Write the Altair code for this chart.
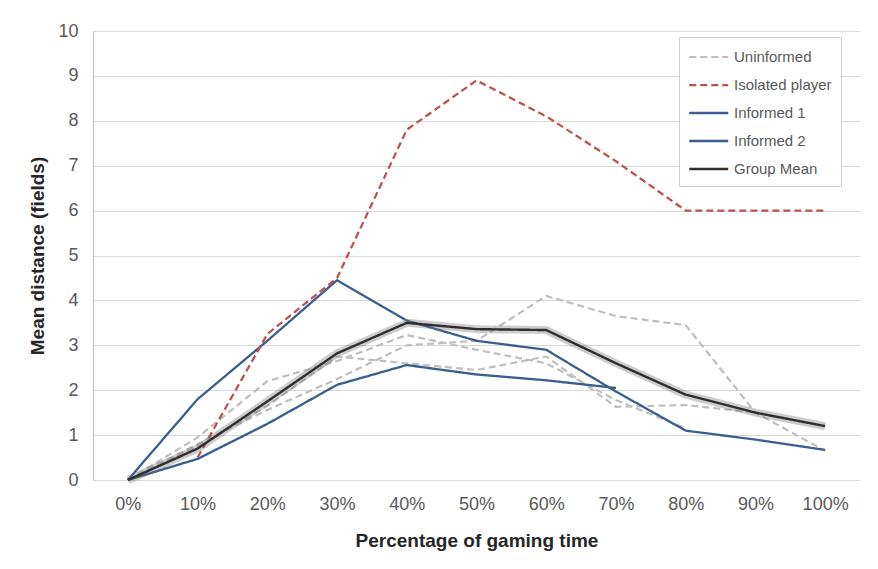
import altair as alt
import pandas as pd

pct = ["0%", "10%", "20%", "30%", "40%", "50%", "60%", "70%", "80%", "90%", "100%"]

uninformed_a = [0, 0.8, 1.56, 2.25, 3.0, 3.1, 4.1, 3.65, 3.45, 1.5, 0.65]
uninformed_b = [0, 0.95, 2.2, 2.65, 3.23, 2.9, 2.6, 1.78, 1.15, None, None]
uninformed_c = [0, 0.75, 1.65, 2.75, 2.6, 2.45, 2.75, 1.63, 1.67, 1.5, None]
isolated = [None, 0.5, 3.25, 4.5, 7.8, 8.9, 8.1, 7.1, 6.0, 6.0, 6.0]
informed_1 = [0, 1.8, 3.1, 4.45, 3.55, 3.1, 2.9, 1.97, 1.1, 0.9, 0.67]
informed_2 = [0, 0.47, 1.25, 2.12, 2.56, 2.35, 2.22, 2.05, None, None, None]
group_mean = [0, 0.7, 1.75, 2.82, 3.5, 3.36, 3.34, 2.6, 1.9, 1.5, 1.2]

series_names = ["Uninformed", "Isolated player", "Informed 1", "Informed 2", "Group Mean"]
series_colors = ["#BFBFBF", "#C0504D", "#3B5E91", "#3B5E91", "#2E2E2E"]
series_dash = [[7, 4], [7, 4], [1, 0], [1, 0], [1, 0]]
series_width = [2.2, 2.4, 2.6, 2.6, 3.6]

lines = [
    ("u_a", "Uninformed", uninformed_a),
    ("u_b", "Uninformed", uninformed_b),
    ("u_c", "Uninformed", uninformed_c),
    ("iso", "Isolated player", isolated),
    ("inf1", "Informed 1", informed_1),
    ("inf2", "Informed 2", informed_2),
    ("mean", "Group Mean", group_mean),
]

rows = []
for lid, ser, vals in lines:
    for p, v in zip(pct, vals):
        if v is not None:
            rows.append({"pct": p, "value": v, "line": lid, "series": ser})
df = pd.DataFrame(rows)

FONT = "Liberation Sans"

x_enc = alt.X(
    "pct:N",
    sort=pct,
    scale=alt.Scale(type="point", padding=0.5),
    axis=alt.Axis(
        title="Percentage of gaming time",
        labelAngle=0,
        labelFontSize=18,
        labelColor="#595959",
        labelFont=FONT,
        labelPadding=15,
        ticks=False,
        domain=False,
        titleFontSize=19,
        titleFont=FONT,
        titleFontWeight="bold",
        titleColor="#262626",
        titlePadding=18,
    ),
)
y_enc = alt.Y(
    "value:Q",
    scale=alt.Scale(domain=[0, 10], nice=False),
    axis=alt.Axis(
        title="Mean distance (fields)",
        values=list(range(0, 11)),
        labelFontSize=18,
        labelColor="#595959",
        labelFont=FONT,
        labelPadding=15,
        ticks=False,
        domain=True,
        domainColor="#BFBFBF",
        gridColor="#D9D9D9",
        titleFontSize=19,
        titleFont=FONT,
        titleFontWeight="bold",
        titleColor="#262626",
        titlePadding=10,
    ),
)

legend = alt.Legend(
    title=None,
    orient="none",
    legendX=586,
    legendY=6,
    direction="vertical",
    symbolType="M-1,0L3,0",
    symbolSize=380,
    labelOffset=24,
    labelFontSize=15,
    labelFont=FONT,
    labelColor="#595959",
    padding=9,
    rowPadding=9,
    strokeColor="#D0D0D0",
    fillColor="white",
)

color_enc = alt.Color(
    "series:N",
    scale=alt.Scale(domain=series_names, range=series_colors),
    legend=legend,
)
dash_enc = alt.StrokeDash(
    "series:N",
    scale=alt.Scale(domain=series_names, range=series_dash),
    legend=legend,
)
width_enc = alt.StrokeWidth(
    "series:N",
    scale=alt.Scale(domain=series_names, range=series_width),
    legend=legend,
)

base = alt.Chart(df)


def layer(names):
    return (
        base.transform_filter(alt.FieldOneOfPredicate(field="series", oneOf=names))
        .mark_line(strokeJoin="round", strokeCap="butt")
        .encode(x=x_enc, y=y_enc, color=color_enc, strokeDash=dash_enc,
                strokeWidth=width_enc, detail="line:N")
    )


glow = (
    base.transform_filter(alt.datum.series == "Group Mean")
    .mark_line(color="#707070", opacity=0.35, strokeWidth=8, strokeJoin="round")
    .encode(x=x_enc, y=y_enc)
)

chart = alt.layer(
    layer(["Uninformed"]),
    layer(["Informed 1", "Informed 2"]),
    layer(["Isolated player"]),
    glow,
    layer(["Group Mean"]),
).properties(
    width=767,
    height=449,
    autosize=alt.AutoSizeParams(type="none"),
    padding={"left": 85, "top": 23, "right": 10, "bottom": 80},
    background="white",
).configure_view(stroke=None)

chart.save("out.html", embed_options={"renderer": "svg", "actions": False})
